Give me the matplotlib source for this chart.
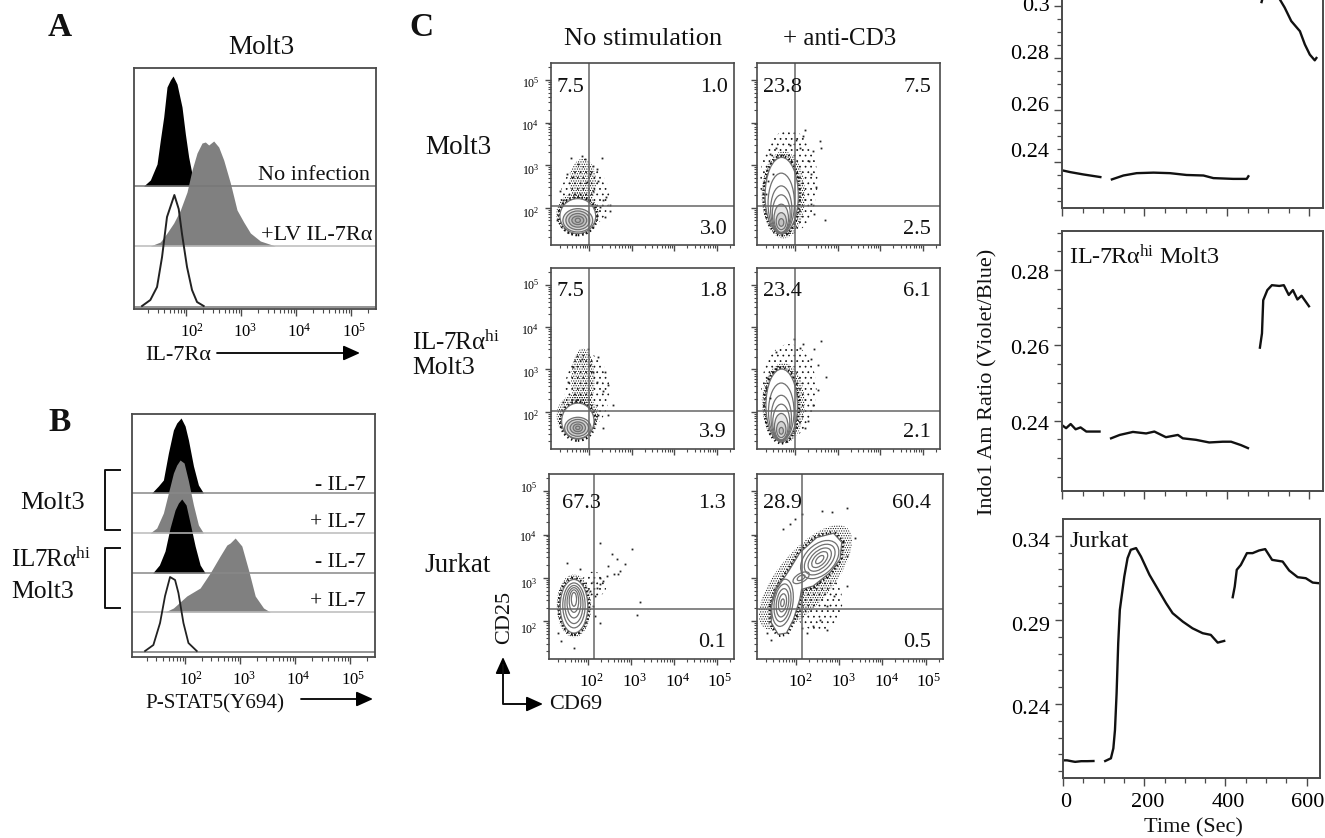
import matplotlib
matplotlib.use('Agg')
import matplotlib.pyplot as plt
import numpy as np
from matplotlib.lines import Line2D
from matplotlib.patches import Ellipse, Polygon
from matplotlib.ticker import FixedLocator
from matplotlib.transforms import ScaledTranslation

plt.rcParams['font.family'] = ['Liberation Serif', 'DejaVu Serif']
plt.rcParams['mathtext.fontset'] = 'custom'
plt.rcParams['mathtext.rm'] = 'Liberation Serif'
plt.rcParams['mathtext.it'] = 'Liberation Serif:italic'
plt.rcParams['mathtext.bf'] = 'Liberation Serif:bold'
plt.rcParams['mathtext.default'] = 'regular'
plt.rcParams['hatch.linewidth'] = 0.5

W, H = 1325, 838

# histograms: log10 intensity, counts
a_black_x = [1.224, 1.345, 1.467, 1.527, 1.588, 1.648, 1.709, 1.758, 1.83, 1.921, 1.982, 2.042, 2.103, 2.164]
a_black_y = [0, 6, 22, 46, 69, 99, 106, 110, 102, 79, 52, 29, 12, 2]
a_gray_x = [1.345, 1.527, 1.648, 1.77, 1.891, 2.012, 2.103, 2.194, 2.285, 2.345, 2.406, 2.497, 2.588, 2.679, 2.8, 2.921, 3.042, 3.164, 3.345, 3.618]
a_gray_y = [0, 4, 13, 23, 36, 54, 76, 93, 103, 104, 101, 105, 99, 86, 63, 36, 24, 13, 5, 0]
a_open_x = [1.194, 1.345, 1.467, 1.558, 1.648, 1.709, 1.782, 1.861, 1.921, 2.012, 2.103, 2.194, 2.315]
a_open_y = [1, 7, 20, 50, 90, 100, 112, 98, 73, 40, 17, 5, 1]

b_black1_x = [1.394, 1.515, 1.606, 1.697, 1.788, 1.848, 1.927, 2.0, 2.061, 2.152, 2.242, 2.333]
b_black1_y = [0, 7, 13, 40, 63, 70, 75, 67, 53, 27, 8, 0]
b_gray1_x = [1.364, 1.485, 1.606, 1.697, 1.788, 1.848, 1.909, 1.982, 2.061, 2.152, 2.242, 2.333]
b_gray1_y = [0, 5, 20, 40, 60, 68, 73, 70, 52, 28, 8, 0]
b_black2_x = [1.412, 1.533, 1.636, 1.727, 1.818, 1.879, 1.939, 2.018, 2.091, 2.182, 2.273, 2.364]
b_black2_y = [0, 8, 22, 45, 63, 70, 74, 68, 50, 27, 8, 0]
b_gray2_x = [1.636, 1.788, 2.03, 2.273, 2.455, 2.636, 2.758, 2.818, 2.909, 3.03, 3.152, 3.273, 3.424, 3.545]
b_gray2_y = [0, 4, 16, 24, 39, 56, 67, 69, 74, 66, 42, 16, 4, 0]
b_open_x = [1.273, 1.424, 1.545, 1.636, 1.727, 1.818, 1.879, 1.97, 2.061, 2.212]
b_open_y = [1, 7, 29, 56, 75, 72, 59, 29, 9, 1]

# flow plots: density levels as (x, y, width, height, angle) in log10 units
# first cloud of each list is the sparse one
m1_clouds = [(1.9, 2.25, 1.15, 1.45, 0), (1.85, 2.6, 0.62, 1.1, 0), (1.72, 1.85, 1.0, 1.0, 0)]
m1_levels = [(1.73, 1.8, 0.84, 0.82, 0), (1.73, 1.7, 0.7, 0.55, 0), (1.73, 1.7, 0.56, 0.44, 0),
             (1.73, 1.7, 0.42, 0.32, 0), (1.73, 1.7, 0.28, 0.2, 0), (1.73, 1.7, 0.12, 0.1, 0)]
m1_strays_x = [1.58, 1.9, 2.29, 2.17, 1.47, 2.01, 2.21, 1.31, 2.4, 2.48, 2.37, 2.25, 2.09, 1.74, 1.62, 1.94, 1.39, 1.23, 2.48, 2.33, 1.82, 2.09]
m1_strays_y = [3.17, 3.14, 3.17, 2.9, 2.79, 2.79, 2.63, 2.4, 2.24, 1.93, 1.78, 2.01, 2.4, 3.02, 2.71, 2.59, 2.17, 1.7, 2.05, 2.17, 3.21, 2.98]
m2_clouds = [(1.85, 2.6, 1.35, 2.45, 0), (1.72, 2.3, 1.02, 2.05, 0)]
m2_levels = [(1.68, 2.28, 0.78, 1.8, 0), (1.67, 2.1, 0.62, 1.42, 0), (1.67, 1.95, 0.5, 1.12, 0),
             (1.67, 1.85, 0.42, 0.9, 0), (1.67, 1.75, 0.34, 0.66, 0), (1.67, 1.68, 0.24, 0.4, 0),
             (1.67, 1.65, 0.12, 0.18, 0)]
m2_strays_x = [2.22, 2.18, 2.57, 2.61, 2.41, 1.4, 1.55, 2.37, 2.49, 2.45, 2.69, 1.48, 1.32, 2.02, 1.87, 2.1, 2.33, 1.36, 2.37]
m2_strays_y = [3.83, 3.68, 3.56, 3.41, 3.33, 3.25, 3.41, 2.79, 2.48, 1.86, 1.7, 2.79, 2.32, 3.6, 3.48, 3.41, 3.1, 2.63, 2.09]
h1_clouds = [(1.95, 2.5, 1.05, 1.75, 0), (1.85, 2.75, 0.55, 1.5, 0), (1.72, 1.9, 0.98, 1.05, 0)]
h1_levels = [(1.73, 1.78, 0.76, 0.85, 0), (1.73, 1.62, 0.62, 0.5, 0), (1.73, 1.62, 0.5, 0.4, 0),
             (1.73, 1.62, 0.36, 0.28, 0), (1.73, 1.62, 0.22, 0.18, 0), (1.73, 1.62, 0.1, 0.08, 0)]
h1_strays_x = [1.98, 2.21, 1.7, 2.37, 2.44, 1.51, 2.17, 2.33, 2.01, 2.56, 2.44, 2.33, 2.21, 1.62, 1.82, 2.09, 1.39]
h1_strays_y = [3.48, 3.29, 3.33, 2.94, 2.63, 2.71, 2.71, 2.48, 3.1, 2.17, 1.93, 1.62, 1.93, 3.06, 3.25, 2.94, 2.24]
h2_clouds = [(1.85, 2.5, 1.3, 2.2, 0), (1.72, 2.2, 1.0, 1.9, 0)]
h2_levels = [(1.68, 2.15, 0.74, 1.72, 0), (1.67, 2.0, 0.6, 1.36, 0), (1.67, 1.85, 0.48, 1.08, 0),
             (1.67, 1.75, 0.4, 0.86, 0), (1.67, 1.65, 0.32, 0.62, 0), (1.67, 1.58, 0.22, 0.38, 0),
             (1.67, 1.55, 0.1, 0.16, 0)]
h2_strays_x = [1.98, 2.61, 2.73, 2.37, 2.53, 2.45, 2.18, 1.55, 1.36, 2.53, 2.41, 2.3, 2.22, 1.4, 2.1]
h2_strays_y = [3.72, 3.68, 2.83, 3.25, 3.1, 3.48, 3.6, 3.41, 2.79, 2.52, 2.17, 1.78, 1.62, 2.32, 3.52]
j1_clouds = [(2.15, 2.85, 0.55, 0.6, 40), (1.68, 2.35, 0.8, 1.46, 0)]
j1_levels = [(1.68, 2.34, 0.64, 1.24, 0), (1.68, 2.36, 0.52, 1.04, 0), (1.68, 2.38, 0.42, 0.88, 0),
             (1.68, 2.42, 0.32, 0.7, 0), (1.68, 2.46, 0.22, 0.52, 0), (1.68, 2.5, 0.12, 0.32, 0)]
j1_strays_x = [2.29, 3.02, 2.56, 2.87, 2.75, 2.6, 2.44, 2.29, 2.13, 2.21, 2.36, 2.05, 3.22, 3.14, 2.29, 2.17, 1.51, 1.32, 1.39, 1.67, 1.82, 2.67, 2.48, 2.71, 2.29, 2.17, 2.13]
j1_strays_y = [3.8, 3.66, 3.55, 3.31, 3.16, 3.08, 3.04, 3.0, 2.89, 2.77, 2.93, 2.69, 2.45, 2.13, 1.96, 2.11, 3.34, 1.72, 1.53, 1.38, 3.2, 3.43, 3.27, 3.08, 2.85, 2.58, 2.34]
j2_clouds = [(2.5, 2.45, 1.15, 1.35, 0), (2.22, 3.0, 3.0, 1.25, 50)]
j2_outline_x = [1.43, 1.55, 1.86, 2.09, 2.48, 2.87, 3.06, 3.02, 2.79, 2.4, 2.13, 2.09, 1.94, 1.78, 1.59, 1.43]
j2_outline_y = [2.35, 2.73, 3.2, 3.58, 3.93, 4.03, 3.82, 3.43, 3.12, 2.81, 2.73, 2.5, 2.03, 1.72, 1.69, 1.96]
j2_levels = [(1.69, 2.42, 0.48, 1.1, -8), (1.69, 2.42, 0.38, 0.88, -8), (1.69, 2.42, 0.28, 0.66, -8),
             (1.69, 2.42, 0.18, 0.42, -8), (1.69, 2.42, 0.08, 0.18, -8),
             (2.55, 3.42, 1.05, 0.68, 45), (2.55, 3.42, 0.86, 0.52, 45), (2.55, 3.42, 0.66, 0.38, 45),
             (2.55, 3.42, 0.46, 0.25, 45), (2.55, 3.42, 0.24, 0.12, 45),
             (2.12, 3.0, 0.42, 0.2, 30), (2.12, 3.0, 0.2, 0.1, 30)]
j2_strays_x = [1.98, 2.13, 2.6, 2.83, 3.19, 3.37, 3.18, 3.18, 2.87, 2.71, 2.56, 2.4, 2.25, 2.71, 2.13, 1.32, 1.43, 1.7, 1.86]
j2_strays_y = [4.36, 4.48, 4.55, 4.53, 4.61, 3.91, 3.51, 2.81, 2.58, 2.34, 2.03, 1.88, 1.72, 1.8, 1.84, 1.72, 1.57, 4.13, 4.24]

flow_numbers = [['7.5', '1.0', '3.0'], ['23.8', '7.5', '2.5'],
                ['7.5', '1.8', '3.9'], ['23.4', '6.1', '2.1'],
                ['67.3', '1.3', '0.1'], ['28.9', '60.4', '0.5']]

# calcium traces: time (s), ratio
m_t1 = [0, 20, 52, 93]
m_r1 = [.2368, .2361, .2352, .2342]
m_t2 = [121, 149, 181, 222, 262, 302, 343, 367, 415, 448, 452]
m_r2 = [.2333, .2348, .2357, .2359, .2357, .235, .2348, .2338, .2335, .2335, .2345]
m_t3 = [484, 488, 500, 515, 528, 540, 556, 577, 589, 601, 613, 617]
m_r3 = [.3015, .3039, .31, .312, .3026, .2994, .2942, .2903, .2852, .2813, .2791, .28]

h_t1 = [0, 10, 21, 33, 45, 59, 91]
h_r1 = [.2388, .238, .2391, .2377, .2382, .2371, .2371]
h_t2 = [119, 140, 172, 204, 224, 252, 281, 293, 325, 357, 390, 410, 434, 451]
h_r2 = [.2353, .2362, .237, .2366, .2371, .2356, .2362, .2353, .2349, .2342, .2344, .2344, .2335, .2327]
h_t3 = [480, 485, 488, 498, 509, 527, 538, 550, 560, 571, 581, 599]
h_r3 = [.2594, .2632, .272, .2747, .276, .2758, .276, .2734, .2747, .2722, .2732, .2704]

j_t1 = [0, 10, 25, 30, 45, 60, 75]
j_r1 = [.2065, .2065, .2058, .2056, .206, .206, .2061]
j_t2 = [104, 118, 124, 128, 132, 136, 140, 151, 159, 167, 180, 192, 213, 237, 254, 270, 295, 319, 344, 364, 381, 397]
j_r2 = [.2061, .2077, .2136, .2245, .2463, .2761, .296, .3158, .3267, .3317, .3327, .3277, .3168, .3069, .2999, .294, .289, .285, .2821, .2811, .2765, .2775]
j_t3 = [418, 423, 428, 438, 453, 467, 483, 498, 515, 541, 557, 578, 598, 615, 631]
j_r3 = [.3035, .3098, .3198, .3227, .3297, .3297, .3313, .3321, .3257, .3247, .3194, .3154, .3148, .3122, .3118]

decade_labels = [r'$10^{2}$', r'$10^{3}$', r'$10^{4}$', r'$10^{5}$']
decades = [2, 3, 4, 5]
spine_col = '#4a4a4a'

fig = plt.figure(figsize=(W / 100, H / 100), dpi=100)


def px_axes(l, t, r, b):
    return fig.add_axes([l / W, 1 - b / H, (r - l) / W, (b - t) / H])


def ptext(x, y, s, size=16, ha='center', **kw):
    # va center sits a little high for this font
    fig.text(x / W, 1 - (y + 2) / H, s, fontsize=size, ha=ha, va='center', color='#111111', **kw)


def pline(xs, ys, lw=1.4):
    fig.add_artist(Line2D([x / W for x in xs], [1 - y / H for y in ys], color='#111111', lw=lw,
                          transform=fig.transFigure))


def parrow(x0, y0, x1, y1):
    fig.axes[0].annotate('', xy=(x1 / W, 1 - y1 / H), xytext=(x0 / W, 1 - y0 / H),
                         xycoords='figure fraction', textcoords='figure fraction',
                         annotation_clip=False,
                         arrowprops=dict(arrowstyle='-|>,head_width=0.45,head_length=1.0', color='k',
                                         lw=1.3, shrinkA=0, shrinkB=0))


def shift_labels(labels, dx, dy):
    for lab, a, b in zip(labels, dx, dy):
        lab.set_transform(lab.get_transform() + ScaledTranslation(a / 100, -b / 100, fig.dpi_scale_trans))


def log_ticks(lo, hi):
    minor = [np.log10(m) + d for d in range(0, 6) for m in range(2, 10)]
    return [v for v in minor if lo <= v <= hi]


def style_spines(ax, lw=1.3):
    for s in ax.spines.values():
        s.set_color(spine_col)
        s.set_linewidth(lw)


def hist_axis(ax, xlim, ylim):
    ax.set_xlim(*xlim)
    ax.set_ylim(*ylim)
    ax.set_xticks(decades)
    ax.set_xticklabels(decade_labels, fontsize=12)
    ax.xaxis.set_minor_locator(FixedLocator(log_ticks(*xlim)))
    ax.tick_params(axis='x', which='major', length=5, width=1, color=spine_col, pad=5)
    ax.tick_params(axis='x', which='minor', length=3, width=0.8, color=spine_col)
    ax.set_yticks([])
    shift_labels(ax.get_xticklabels(), [6, 4, 3, 3], [0, 0, 0, 0])
    style_spines(ax)


# A
ax_a = px_axes(134, 68, 376, 309)
for base, col in [(123, '#777777'), (63, '#bbbbbb'), (2, '#777777')]:
    ax_a.axhline(base, color=col, lw=1.1)
ax_a.fill_between(a_black_x, 123, np.array(a_black_y) + 123, color='k', lw=0)
ax_a.fill_between(a_gray_x, 63, np.array(a_gray_y) + 63, color='#808080', lw=0)
ax_a.plot(a_open_x, np.array(a_open_y) + 2, color='#222222', lw=1.4)
hist_axis(ax_a, (1.048, 5.448), (0, 241))

# B
ax_b = px_axes(132, 414, 375, 657)
for base, col in [(164, '#888888'), (124, '#bbbbbb'), (84, '#888888'), (45, '#bbbbbb'), (5, '#777777')]:
    ax_b.axhline(base, color=col, lw=1.1)
ax_b.fill_between(b_black1_x, 164, np.array(b_black1_y) + 164, color='k', lw=0)
ax_b.fill_between(b_gray1_x, 124, np.array(b_gray1_y) + 124, color='#808080', lw=0)
ax_b.fill_between(b_black2_x, 84, np.array(b_black2_y) + 84, color='k', lw=0)
ax_b.fill_between(b_gray2_x, 45, np.array(b_gray2_y) + 45, color='#808080', lw=0)
ax_b.plot(b_open_x, np.array(b_open_y) + 5, color='#222222', lw=1.3)
hist_axis(ax_b, (1.036, 5.448), (0, 243))


def flow_panel(rect, clouds, levels, gate_x, gate_y, nums, strays, num_dx, num_y, y_dy=None,
               x_labels=False, outline=None):
    ax = px_axes(*rect)
    ax.set_xlim(1.1, 5.4)
    ax.set_ylim(1.12, 5.4)
    for k, (cx, cy, w, h, ang) in enumerate(clouds):
        ax.add_patch(Ellipse((cx, cy), w, h, angle=ang, fc='none', ec='#111111', lw=0,
                             hatch='.......' if k else '...'))
    ax.plot(strays[0], strays[1], ls='none', marker='s', ms=1.3, color='#222222', mew=0)
    # dark rim of single events hugging the outer contour
    if outline is not None:
        ax.add_patch(Polygon(np.column_stack(outline), closed=True, fc='white', ec='#111111', lw=4,
                             ls=(0, (0.25, 0.45))))
        ax.add_patch(Polygon(np.column_stack(outline), closed=True, fc='white', ec='#666666', lw=0.9))
    else:
        cx, cy, w, h, ang = levels[0]
        ax.add_patch(Ellipse((cx, cy), w, h, angle=ang, fc='white', ec='#111111', lw=4,
                             ls=(0, (0.25, 0.45))))
        ax.add_patch(Ellipse((cx, cy), w, h, angle=ang, fc='white', ec='none'))
    for cx, cy, w, h, ang in levels:
        fill = (0.3, 0.3, 0.3, 0.13) if (rect[1] < 470 and 0.14 < h < 0.7) else 'none'
        ax.add_patch(Ellipse((cx, cy), w, h, angle=ang, fc=fill, ec='#707070', lw=0.9))
    ax.axvline(gate_x, color='#666666', lw=1.1)
    ax.axhline(gate_y, color='#666666', lw=1.1)
    ax.set_xticks(decades)
    ax.set_yticks(decades)
    ax.xaxis.set_minor_locator(FixedLocator(log_ticks(1.1, 5.4)))
    ax.yaxis.set_minor_locator(FixedLocator(log_ticks(1.12, 5.4)))
    ax.tick_params(which='major', length=4, width=1, color=spine_col, pad=3)
    ax.tick_params(which='minor', length=2, width=0.8, color=spine_col)
    if x_labels:
        ax.tick_params(axis='x', which='major', pad=6)
        ax.set_xticklabels(decade_labels, fontsize=12.5)
        shift_labels(ax.get_xticklabels(), [4, 4, 4, 3], [0, 0, 0, 0])
    else:
        ax.set_xticklabels([])
    if y_dy is not None:
        ax.set_yticklabels(decade_labels, fontsize=8.5)
        shift_labels(ax.get_yticklabels(), [-2, -2, -2, -2], y_dy)
    else:
        ax.set_yticklabels([])
    style_spines(ax, 1.2)
    l, t, r, b = rect
    ptext(l + num_dx[0], num_y[0], nums[0])
    ptext(r - num_dx[1], num_y[0], nums[1], ha='right')
    ptext(r - num_dx[1], num_y[1], nums[2], ha='right')
    return ax


flow_panel((551, 63, 734, 245), m1_clouds, m1_levels, 1.99, 2.03, flow_numbers[0],
           (m1_strays_x, m1_strays_y), (19, 6), (86, 227), y_dy=[4, 4, 2, 2])
flow_panel((757, 63, 940, 245), m2_clouds, m2_levels, 2.0, 2.03, flow_numbers[1],
           (m2_strays_x, m2_strays_y), (25, 9), (86, 227))
flow_panel((551, 268, 734, 449), h1_clouds, h1_levels, 1.99, 2.03, flow_numbers[2],
           (h1_strays_x, h1_strays_y), (19, 7), (290, 430), y_dy=[3, 2, 2, -1])
flow_panel((757, 268, 940, 449), h2_clouds, h2_levels, 2.0, 2.03, flow_numbers[3],
           (h2_strays_x, h2_strays_y), (25, 9), (290, 430))
flow_panel((549, 474, 734, 659), j1_clouds, j1_levels, 2.15, 2.28, flow_numbers[4],
           (j1_strays_x, j1_strays_y), (32, 8), (501, 640), y_dy=[7, 5, 1, -4], x_labels=True)
flow_panel((757, 474, 943, 659), j2_clouds, j2_levels, 2.14, 2.28, flow_numbers[5],
           (j2_strays_x, j2_strays_y), (25, 12), (501, 640), x_labels=True, outline=(j2_outline_x, j2_outline_y))


def trace_panel(rect, ylim, ymajor, ylabels, ystep, segments, xlabels, ydy):
    ax = px_axes(*rect)
    for t, r in segments:
        ax.plot(t, r, color='#111111', lw=1.7, solid_joinstyle='round')
    ax.set_xlim(0, 633)
    ax.set_ylim(*ylim)
    ax.set_xticks([0, 200, 400, 600])
    ax.xaxis.set_minor_locator(FixedLocator(np.arange(0, 633, 50)))
    ax.set_yticks(ymajor)
    ax.set_yticklabels(ylabels, fontsize=16)
    ax.yaxis.set_minor_locator(FixedLocator(np.arange(ylim[0] - ylim[0] % ystep + ystep, ylim[1], ystep)))
    ax.tick_params(which='major', length=6, width=1, color=spine_col, pad=3)
    ax.tick_params(which='minor', length=3.5, width=0.9, color=spine_col)
    if xlabels:
        ax.set_xticklabels(['0', '200', '400', '600'], fontsize=16)
        shift_labels(ax.get_xticklabels(), [3, 3, 3, 1], [2, 2, 2, 2])
    else:
        ax.set_xticklabels([])
    shift_labels(ax.get_yticklabels(), [0] * len(ymajor), ydy)
    style_spines(ax, 1.4)
    return ax


trace_panel((1062, -52, 1323, 208), (0.2223, 0.3223), [0.24, 0.26, 0.28, 0.30], ['0.24', '0.26', '0.28', '0.3'],
            0.005, [(m_t1, m_r1), (m_t2, m_r2), (m_t3, m_r3)], False, [-12, -6, -6, -2])
trace_panel((1062, 231, 1323, 491), (0.2213, 0.2904), [0.24, 0.26, 0.28], ['0.24', '0.26', '0.28'],
            0.005, [(h_t1, h_r1), (h_t2, h_r2), (h_t3, h_r3)], False, [2, 2, 2])
trace_panel((1063, 519, 1320, 778), (0.196, 0.35), [0.24, 0.29, 0.34], ['0.24', '0.29', '0.34'],
            0.01, [(j_t1, j_r1), (j_t2, j_r2), (j_t3, j_r3)], True, [3, 4, 4])

# text
ptext(60, 26, 'A', size=24, fontweight='bold')
ptext(60, 420, 'B', size=24, fontweight='bold')
ptext(421, 25, 'C', size=24, fontweight='bold')
ptext(261, 45, 'Molt3', size=19.5)
ptext(370, 173, 'No infection', ha='right')
ptext(372, 233, '+LV IL-7Rα', ha='right')
ptext(145, 353, 'IL-7Rα', ha='left')
for yy, txt in zip([483, 520, 560, 599], ['- IL-7', '+ IL-7', '- IL-7', '+ IL-7']):
    ptext(366, yy, txt, ha='right', size=15.5)
ptext(53, 501, 'Molt3', size=19)
ptext(11, 558, r'IL7Rα$^{hi}$', size=18, ha='left')
ptext(11, 590, 'Molt3', size=18.5, ha='left')
ptext(145, 702, 'P-STAT5(Y694)', ha='left', size=15.2)
ptext(643, 37, 'No stimulation', size=19)
ptext(840, 37, '+ anti-CD3', size=18)
ptext(458, 146, 'Molt3', size=19.5)
ptext(412, 341, r'IL-7Rα$^{hi}$', size=18, ha='left')
ptext(412, 366, 'Molt3', size=18.5, ha='left')
ptext(458, 563, 'Jurkat', size=19.5)
ptext(505, 615, 'CD25', rotation=90)
ptext(549, 702, 'CD69', ha='left')
ptext(988, 380, 'Indo1 Am Ratio (Violet/Blue)', size=16, rotation=90)
ptext(1193, 826, 'Time (Sec)', size=16)
ptext(1069, 255, r'IL-7Rα$^{hi}$ Molt3', size=17.5, ha='left')
ptext(1069, 539, 'Jurkat', size=17.5, ha='left')

pline([120, 105, 105, 120], [470, 470, 530, 530])
pline([120, 105, 105, 120], [548, 548, 608, 608])
parrow(217, 353, 360, 353)
parrow(301, 699, 373, 699)
pline([503, 503, 525], [665, 704, 704])
parrow(503, 675, 503, 657)
parrow(510, 704, 543, 704)

plt.savefig('out.png', dpi=100)
